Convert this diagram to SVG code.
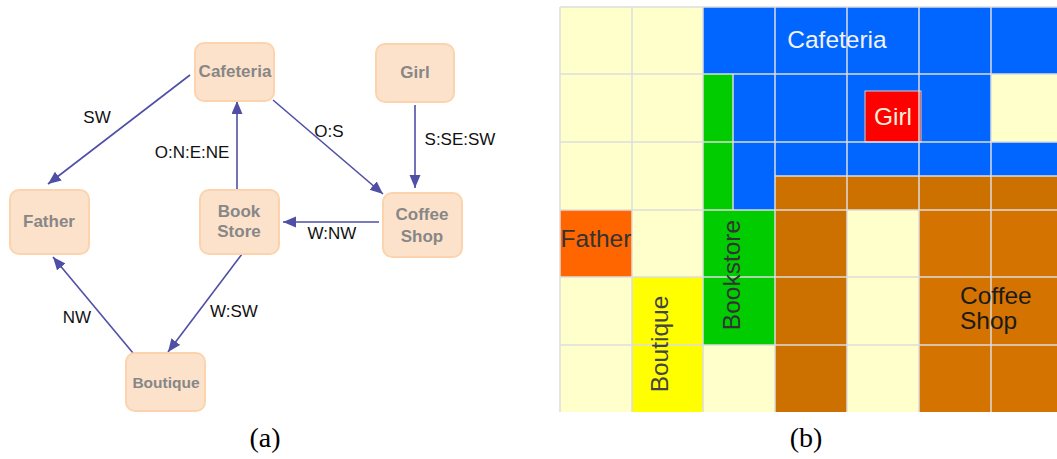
<svg xmlns="http://www.w3.org/2000/svg" width="1057" height="459" viewBox="0 0 1057 459">
  <style>
    .node rect { fill: #fde2cb; stroke: #fbd4ae; stroke-width: 2; }
    .node text { font-family: "Liberation Sans", Arial, sans-serif; font-weight: bold; font-size: 17px; fill: #878787; text-anchor: middle; }
    .edge { stroke: #4f4fa6; stroke-width: 1.6; fill: none; marker-end: url(#arrow); }
    .elabel { font-family: "Liberation Sans", Arial, sans-serif; font-size: 17px; fill: #111; }
    .cream { fill: #ffffcc; }
    .blue { fill: #0066ff; }
    .green { fill: #00cc00; }
    .brown { fill: #cc7000; }
    .brown2 { fill: #d57300; }
    .orange { fill: #ff6600; }
    .yellow { fill: #ffff00; }
    .grid line { stroke: #dcdcdc; stroke-width: 1.5; }
    .place { font-family: "Liberation Sans", Arial, sans-serif; font-size: 24.5px; }
    .caption { font-family: "Liberation Serif", "Times New Roman", serif; font-size: 28px; fill: #000; text-anchor: middle; }
  </style>
  <defs>
    <marker id="arrow" markerUnits="userSpaceOnUse" markerWidth="14" markerHeight="12" refX="13" refY="5.5" orient="auto">
      <path d="M0,0 L13,5.5 L0,11 z" fill="#4f4fa6"/>
    </marker>
  </defs>
  <rect width="1057" height="459" fill="#ffffff"/>

  <!-- (a) graph of places -->
  <g id="connectors">
    <line class="edge" x1="190" y1="75" x2="48" y2="184"/>
    <line class="edge" x1="237" y1="190" x2="237" y2="101"/>
    <line class="edge" x1="273" y1="100" x2="383" y2="194"/>
    <line class="edge" x1="415" y1="105" x2="415" y2="188"/>
    <line class="edge" x1="379" y1="222" x2="283" y2="222"/>
    <line class="edge" x1="242" y1="254" x2="168" y2="352"/>
    <line class="edge" x1="133" y1="353" x2="53" y2="257"/>
    <text class="elabel" x="97" y="123" text-anchor="middle">SW</text>
    <text class="elabel" x="192" y="158" text-anchor="middle">O:N:E:NE</text>
    <text class="elabel" x="329" y="137" text-anchor="middle">O:S</text>
    <text class="elabel" x="460" y="145" text-anchor="middle">S:SE:SW</text>
    <text class="elabel" x="332" y="239" text-anchor="middle">W:NW</text>
    <text class="elabel" x="234" y="317" text-anchor="middle">W:SW</text>
    <text class="elabel" x="77" y="323" text-anchor="middle">NW</text>
  </g>

  <g id="node-cafeteria" class="node">
    <rect x="195" y="43" width="79" height="58" rx="9"/>
    <text x="235" y="77">Cafeteria</text>
  </g>
  <g id="node-girl" class="node">
    <rect x="376" y="44" width="78" height="58" rx="9"/>
    <text x="415" y="78">Girl</text>
  </g>
  <g id="node-father" class="node">
    <rect x="10" y="190" width="79" height="64" rx="9"/>
    <text x="49" y="227">Father</text>
  </g>
  <g id="node-bookstore" class="node">
    <rect x="200" y="190" width="79" height="64" rx="9"/>
    <text x="239" y="217">Book</text>
    <text x="239" y="237">Store</text>
  </g>
  <g id="node-coffeeshop" class="node">
    <rect x="383" y="193" width="79" height="64" rx="9"/>
    <text x="422" y="220">Coffee</text>
    <text x="422" y="242">Shop</text>
  </g>
  <g id="node-boutique" class="node">
    <rect x="126" y="353" width="79" height="58" rx="9"/>
    <text x="166" y="388" style="font-size:15.5px">Boutique</text>
  </g>

  <!-- (b) occupancy grid -->
  <g id="grid-cells">
    <!-- row 0 -->
    <rect class="cream" x="560" y="7" width="143" height="67"/>
    <rect class="blue" x="703" y="7" width="354" height="67"/>
    <!-- row 1 -->
    <rect class="cream" x="560" y="74" width="143" height="68"/>
    <rect class="green" x="703" y="74" width="30" height="68"/>
    <rect class="blue" x="733" y="74" width="258" height="68"/>
    <rect class="cream" x="991" y="74" width="66" height="68"/>
    <!-- row 2 -->
    <rect class="cream" x="560" y="142" width="143" height="68"/>
    <rect class="green" x="703" y="142" width="30" height="68"/>
    <rect class="blue" x="733" y="142" width="324" height="34"/>
    <rect class="blue" x="733" y="176" width="42" height="34"/>
    <rect class="brown" x="775" y="176" width="282" height="34"/>
    <!-- rows 3-5 -->
    <rect class="orange" x="560" y="210" width="72" height="67"/>
    <rect class="cream" x="632" y="210" width="71" height="67"/>
    <rect class="cream" x="560" y="277" width="72" height="135"/>
    <rect class="yellow" x="632" y="277" width="71" height="135"/>
    <rect class="green" x="703" y="210" width="72" height="135"/>
    <rect class="cream" x="703" y="345" width="72" height="67"/>
    <rect class="brown" x="775" y="210" width="72" height="202"/>
    <rect class="cream" x="847" y="210" width="72" height="202"/>
    <rect class="brown2" x="919" y="210" width="138" height="202"/>
    <!-- girl marker -->
    <rect x="865" y="91" width="56" height="51" fill="#ff0000" stroke="#d0d0d0" stroke-width="1"/>
  </g>
  <g id="grid-lines" class="grid">
    <line x1="560" y1="7" x2="1057" y2="7"/>
    <line x1="560" y1="74" x2="1057" y2="74"/>
    <line x1="560" y1="142" x2="1057" y2="142"/>
    <line x1="775" y1="176" x2="1057" y2="176"/>
    <line x1="560" y1="210" x2="1057" y2="210"/>
    <line x1="560" y1="277" x2="1057" y2="277"/>
    <line x1="560" y1="345" x2="1057" y2="345"/>
    <line x1="560" y1="7" x2="560" y2="412"/>
    <line x1="632" y1="7" x2="632" y2="412"/>
    <line x1="703" y1="7" x2="703" y2="412"/>
    <line x1="733" y1="74" x2="733" y2="210"/>
    <line x1="775" y1="7" x2="775" y2="412"/>
    <line x1="847" y1="7" x2="847" y2="412"/>
    <line x1="919" y1="7" x2="919" y2="412"/>
    <line x1="991" y1="7" x2="991" y2="412"/>
  </g>
  <g id="grid-labels">
    <text class="place" x="837" y="48" text-anchor="middle" fill="#f2f2f2">Cafeteria</text>
    <text class="place" x="893" y="125" text-anchor="middle" fill="#f5f0d8">Girl</text>
    <text class="place" x="596" y="247" text-anchor="middle" fill="#333333">Father</text>
    <text class="place" transform="translate(740,275) rotate(-90)" text-anchor="middle" fill="#333333">Bookstore</text>
    <text class="place" transform="translate(667.5,344) rotate(-90)" text-anchor="middle" fill="#444444">Boutique</text>
    <text class="place" x="960" y="304" fill="#1a1a1a">Coffee</text>
    <text class="place" x="960" y="329" fill="#1a1a1a">Shop</text>
  </g>

  <text class="caption" x="265" y="447">(a)</text>
  <text class="caption" x="806" y="447">(b)</text>
</svg>
